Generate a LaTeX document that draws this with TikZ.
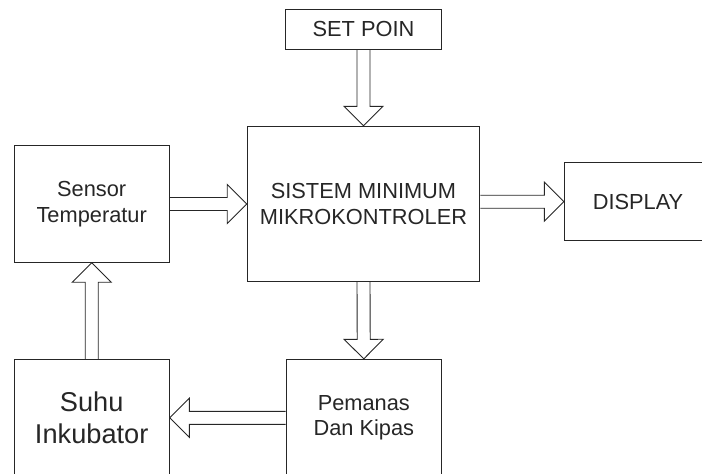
\documentclass[tikz,border=0pt]{standalone}
\usepackage{fontspec}
\setmainfont{Liberation Sans}
\usetikzlibrary{calc}

% panah blok berongga dari #1 ke #2
\newcommand{\panah}[2]{%
\path ($(#2)!19.5pt!(#1)$) coordinate (leher);
\draw[garis] ($(#1)!6.5pt!90:(#2)$) -- ($(leher)!6.5pt!90:(#2)$) -- ($(leher)!19.5pt!90:(#2)$) -- (#2)
 -- ($(leher)!19.5pt!-90:(#2)$) -- ($(leher)!6.5pt!-90:(#2)$) -- ($(#1)!6.5pt!-90:(#2)$);}

\begin{document}
\begin{tikzpicture}[x=1pt,y=-1pt,
  garis/.style={line width=0.9pt,color=black!85},
  blok/.style={garis,draw,rectangle,inner sep=0pt,align=center,
    font=\fontsize{21.8}{25.5}\selectfont},
  besar/.style={font=\fontsize{27.2}{32.7}\selectfont}]

\useasboundingbox (0,0) rectangle (702,474);

\node[blok,minimum width=155.3pt,minimum height=39.7pt] (setpoin) at (363.5,29.2) {SET POIN};
\node[blok,minimum width=232.7pt,minimum height=155.4pt] (sistem) at (363.5,204) {SISTEM MINIMUM\\MIKROKONTROLER};
\node[blok,minimum width=155.3pt,minimum height=116.6pt] (sensor) at (91.7,204) {Sensor\\Temperatur};
\node[blok,minimum width=147.4pt,minimum height=78pt] (display) at (638,201.7) {DISPLAY};
\node[blok,besar,minimum width=155.3pt,minimum height=117pt] (suhu) at (91.7,417.8) {Suhu\\Inkubator};
\node[blok,minimum width=155.7pt,minimum height=117pt] (pemanas) at (363.8,417.8) {Pemanas\\Dan Kipas};

\coordinate (sistemkiri) at (sistem.west |- sensor.east);
\coordinate (sistemkanan) at (sistem.east |- display.west);

\panah{setpoin.south}{sistem.north}
\panah{sensor.east}{sistemkiri}
\panah{sistemkanan}{display.west}
\panah{sistem.south}{pemanas.north}
\panah{suhu.north}{sensor.south}
\panah{pemanas.west}{suhu.east}

\end{tikzpicture}
\end{document}
